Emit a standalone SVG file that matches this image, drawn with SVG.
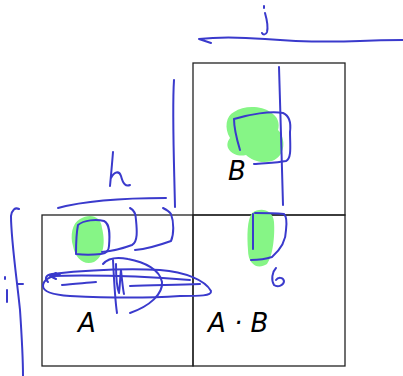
<svg xmlns="http://www.w3.org/2000/svg" width="403" height="376" viewBox="0 0 403 376">
<style>
.box{fill:none;stroke:#222;stroke-width:1.3}
.lbl{font-family:"DejaVu Sans",sans-serif;font-style:oblique;font-size:26px;fill:#000}
.pen{fill:none;stroke:#3a3acc;stroke-width:2;stroke-linecap:round;stroke-linejoin:round}
.hl{fill:#86f586;stroke:none}
</style>
<rect width="403" height="376" fill="#fff"/>
<g id="matA"><rect class="box" x="42" y="215" width="151" height="151"/><text class="lbl" x="78" y="332">A</text></g>
<g id="matB"><rect class="box" x="193" y="63" width="152" height="152"/><text class="lbl" x="228" y="180">B</text></g>
<g id="matAB"><rect class="box" x="193" y="215" width="152" height="151"/><text class="lbl" x="208" y="332">A · B</text></g>
<g id="highlights">
<path class="hl" d="M234,112 C244,105 262,106 270,112 C278,116 280,124 278,130 C286,138 286,156 272,161 C260,164 252,160 246,155 C234,158 222,148 230,138 C224,128 226,116 234,112 Z"/>
<path class="hl" d="M80,219 C90,213 101,216 102,228 C105,240 105,256 94,262 C84,266 75,258 73,246 C70,236 72,223 80,219 Z"/>
<path class="hl" d="M252,213 C260,207 273,209 274,222 C275,236 273,256 267,264 C258,270 248,265 248,250 C247,236 247,220 252,213 Z"/>
</g>
<g id="ink" class="pen">
<path d="M264,6 L264,8 M265,13 C267,20 268,28 267,32 C266,35 263,35 262,33"/>
<path d="M199,39 C202,40 208,42 211,43 M199,39 C215,37 240,37 265,39 C300,42 330,42 360,41 C380,40 395,40 403,40"/>
<path d="M174,80 C172,110 174,160 175,207"/>
<path d="M279,67 C280,110 282,160 283,205"/>
<path d="M240,150 C237,140 234,128 234,119 C250,114 270,111 283,113 C290,116 291,124 290,132 C290,145 292,158 286,161 C276,163 262,163 254,164"/>
<path d="M113,152 C112,165 111,175 110,186 M111,178 C114,172 119,170 121,176 C123,184 126,187 130,185"/>
<path d="M58,208 C80,202 120,198 166,198"/>
<path d="M19,209 C15,207 12,210 11,216 C11,240 17,280 20,310 C22,340 23,360 23,376 M18,284 L23,284"/>
<path d="M5,277 L5,279 M7,290 C7,294 7,298 7,302"/>
<path d="M76,254 C76,245 76,235 78,225 C84,220 96,219 104,221 C110,224 110,234 109,246 C109,250 106,254 101,254 C92,255 84,255 76,254"/>
<path d="M102,252 C112,251 124,248 132,245 C138,242 137,230 136,220 C136,214 134,210 130,208"/>
<path d="M135,250 C146,249 160,245 171,241 C174,234 174,222 171,214 C169,211 167,210 163,208"/>
<path d="M253,214 C253,226 253,238 253,249 M251,260 C258,260 266,259 272,257 C280,250 286,242 286,230 C287,222 286,216 284,214 C274,213 264,213 255,213"/>
<path d="M276,268 C272,272 271,280 274,285 C278,288 284,285 284,281 C283,277 278,277 276,280"/>
<path d="M48,282 C44,278 46,275 52,274 C80,271 120,268 160,270 C185,272 205,280 211,291 C212,296 200,296 180,296 C150,298 110,298 70,296 C55,295 43,292 43,286 C43,280 50,276 60,275"/>
<path d="M50,276 C90,275 140,276 190,280 M50,276 L56,273 M50,276 L56,279"/>
<path d="M62,285 C72,284 85,283 96,282"/>
<path d="M113,260 C114,280 115,300 117,313"/>
<path d="M116,264 C116,275 117,288 119,293 C120,286 120,278 121,270 C122,280 123,290 124,294"/>
<path d="M103,264 C108,258 118,257 128,259 C145,262 160,270 162,282 C163,294 150,306 130,313"/>
<path d="M130,286 C150,285 175,285 200,284"/>
</g>
</svg>
